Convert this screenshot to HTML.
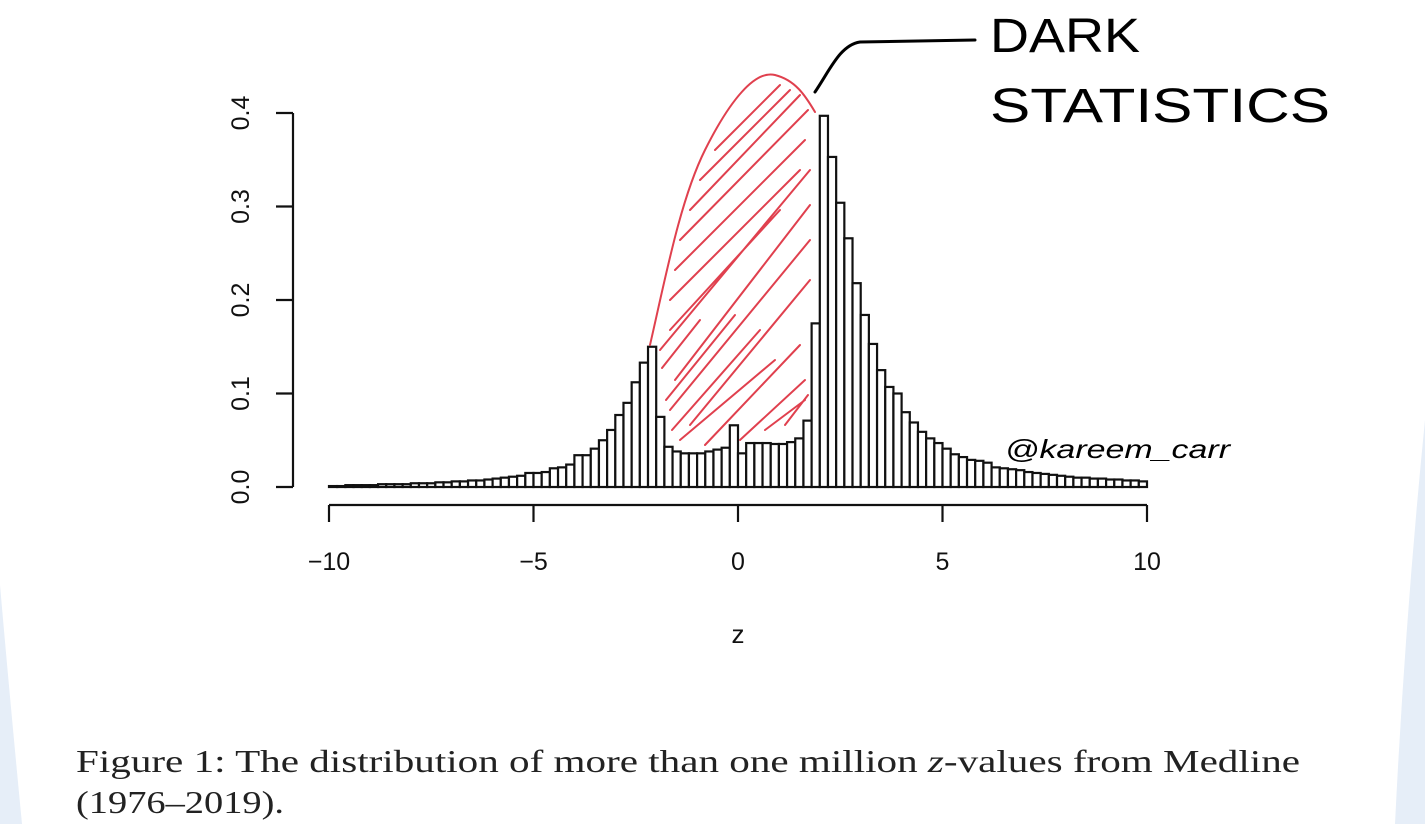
<!DOCTYPE html>
<html><head><meta charset="utf-8">
<style>
html,body{margin:0;padding:0;background:#fff;}
svg{display:block;}
</style></head>
<body>
<svg id="chart" width="1425" height="824" viewBox="0 0 1425 824" xmlns="http://www.w3.org/2000/svg">
  <path d="M0,585 Q10,700 22,824 L0,824 Z" fill="#e6eef8"/>
  <path d="M1425,420 Q1405,620 1395,824 L1425,824 Z" fill="#e6eef8"/>
  <g id="bars"></g>
  <g id="yaxis"></g>
  <g id="xaxis"></g>
  <text x="738" y="643" font-family="'Liberation Sans',sans-serif" font-size="26" text-anchor="middle" fill="#111">z</text>
  <g fill="none" stroke="#e0404e" stroke-width="2" stroke-linecap="round">
    <path d="M650,345 C665,280 680,200 705,150 C730,100 755,70 775,75 C795,80 805,95 815,112"/>
    <path d="M662,368 L700,320 M666,400 L735,315 M672,430 L760,330 M680,440 L775,360 M705,445 L800,345 M740,440 L805,380 M765,430 L805,400 M785,425 L808,395 M670,330 L780,210 M670,300 L800,170 M675,270 L805,140 M680,240 L808,110 M690,210 L800,95 M700,180 L790,90 M715,150 L780,85 M670,410 L810,240 M675,380 L810,205 M690,425 L810,280 M660,350 L810,170"/>
  </g>
  <path d="M815,92 C830,70 840,45 860,42 L975,40" fill="none" stroke="#000" stroke-width="3" stroke-linecap="round"/>
  <text x="990" y="52" font-family="'Liberation Sans',sans-serif" font-size="48" fill="#000" textLength="150" lengthAdjust="spacingAndGlyphs">DARK</text>
  <text x="990" y="122" font-family="'Liberation Sans',sans-serif" font-size="48" fill="#000" textLength="340" lengthAdjust="spacingAndGlyphs">STATISTICS</text>
  <text x="1005" y="458" font-family="'Liberation Sans',sans-serif" font-size="26" font-style="italic" fill="#000" textLength="225" lengthAdjust="spacingAndGlyphs">@kareem_carr</text>
  <text x="76" y="772" font-family="'Liberation Serif',serif" font-size="32" fill="#222" textLength="1224" lengthAdjust="spacingAndGlyphs">Figure 1: The distribution of more than one million <tspan font-style="italic">z</tspan>-values from Medline</text>
  <text x="76" y="813" font-family="'Liberation Serif',serif" font-size="32" fill="#222" textLength="208" lengthAdjust="spacingAndGlyphs">(1976–2019).</text>
</svg>
<script>
const binStart = -10;
const binWidth = 0.2;
const densities = [
0.001,0.001,0.002,0.002,0.002,0.002,0.003,0.003,0.003,0.003,
0.004,0.004,0.004,0.005,0.005,0.006,0.006,0.007,0.007,0.008,
0.009,0.010,0.011,0.012,0.015,0.015,0.016,0.020,0.021,0.024,
0.034,0.034,0.041,0.050,0.061,0.077,0.090,0.112,0.133,0.150,
0.075,0.043,0.038,0.036,0.036,0.036,0.038,0.040,0.042,0.066,
0.036,0.047,0.047,0.047,0.046,0.046,0.048,0.052,0.071,0.175,
0.397,0.353,0.304,0.266,0.218,0.184,0.153,0.125,0.107,0.100,
0.080,0.069,0.059,0.052,0.047,0.041,0.035,0.032,0.029,0.028,
0.026,0.021,0.020,0.019,0.018,0.016,0.015,0.014,0.013,0.012,
0.011,0.010,0.010,0.009,0.009,0.008,0.008,0.007,0.007,0.006];
const xTicks = [-10,-5,0,5,10];
const xTickLabels = ["\u221210","\u22125","0","5","10"];
const yTicks = [0,0.1,0.2,0.3,0.4];
const yTickLabels = ["0.0","0.1","0.2","0.3","0.4"];

const NS = "http://www.w3.org/2000/svg";
const X0 = 329, X1 = 1147, Y0 = 487, Y1 = 113;
function xs(v){ return X0 + (v + 10) / 20 * (X1 - X0); }
function ys(v){ return Y0 - v / 0.4 * (Y0 - Y1); }
function mk(tag, attrs, parent){
  const e = document.createElementNS(NS, tag);
  for (const k in attrs) e.setAttribute(k, attrs[k]);
  parent.appendChild(e); return e;
}
const bars = document.getElementById('bars');
densities.forEach((d, i) => {
  const a = binStart + i * binWidth, b = a + binWidth;
  const r = mk('rect', {x: xs(a), y: ys(d), width: xs(b) - xs(a), height: Y0 - ys(d), fill: '#fff', stroke: '#111', 'stroke-width': 2.2}, bars);
  
  
});
const xa = document.getElementById('xaxis');
const xl = mk('line', {x1: xs(xTicks[0]), x2: xs(xTicks[xTicks.length-1]), y1: 505, y2: 505, stroke: '#111', 'stroke-width': 2.2}, xa);


xTicks.forEach((t, i) => {
  const tk = mk('line', {x1: xs(t), x2: xs(t), y1: 505, y2: 522, stroke: '#111', 'stroke-width': 2.2}, xa);
  
  
  const tx = mk('text', {x: xs(t), y: 570, 'text-anchor': 'middle', 'font-family': "'Liberation Sans',sans-serif", 'font-size': 25, fill: '#111'}, xa);
  tx.textContent = xTickLabels[i];
  
  
});
const ya = document.getElementById('yaxis');
const yl = mk('line', {x1: 293, x2: 293, y1: ys(yTicks[0]), y2: ys(yTicks[yTicks.length-1]), stroke: '#111', 'stroke-width': 2.2}, ya);


yTicks.forEach((t, i) => {
  const tk = mk('line', {x1: 276, x2: 293, y1: ys(t), y2: ys(t), stroke: '#111', 'stroke-width': 2.2}, ya);
  
  
  const tx = mk('text', {x: 0, y: 0, 'text-anchor': 'middle', 'font-family': "'Liberation Sans',sans-serif", 'font-size': 25, fill: '#111', transform: 'translate(249,' + ys(t) + ') rotate(-90)'}, ya);
  tx.textContent = yTickLabels[i];
  
  
});
</script>
</body></html>
